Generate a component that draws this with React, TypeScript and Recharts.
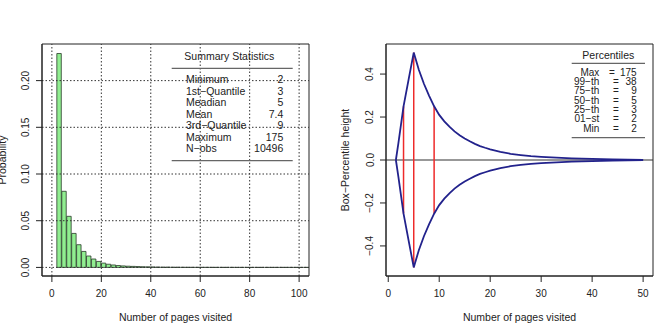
import React from 'react';
import { ComposedChart, Bar, Line, XAxis, YAxis, ReferenceLine, ReferenceArea } from 'recharts';

const FONT = '"Liberation Sans", Arial, Helvetica, sans-serif';
const INK = '#222';

// histogram of pages visited: bin start (width 2) and density
const binStart = [
  2, 4, 6, 8, 10, 12, 14, 16, 18, 20, 22, 24, 26, 28, 30, 32, 34, 36, 38, 40, 42, 44, 46, 48, 50,
  52, 54, 56, 58, 60, 62, 64, 66, 68, 70, 72, 74, 76, 78, 80, 82, 84, 86, 88, 90, 92, 94, 96, 98, 100, 102,
];
const binDensity = [
  0.229, 0.0815, 0.0547, 0.0364, 0.0243, 0.0171, 0.0122, 0.009, 0.0064, 0.0046, 0.0034, 0.0026, 0.002,
  0.0016, 0.0013, 0.0011, 0.0009, 0.0007, 0.0006, 0.0005, 0.0004, 0.0003, 0.0003, 0.0002, 0.0002,
  0.00015, 0.00012, 0.0001, 0.0001, 0.00008, 0.00007, 0.00006, 0.00005, 0.00005, 0.00004, 0.00004,
  0.00003, 0.00003, 0.00003, 0.00002, 0.00002, 0.00002, 0.00002, 0.00002, 0.00002, 0.00002, 0.00002,
  0.00002, 0.00002, 0.00002, 0.00002,
];
const histXTicks = [0, 20, 40, 60, 80, 100];
const histYTicks = [0, 0.05, 0.1, 0.15, 0.2];

const summaryLabels = ['Minimum', '1st\u2212Quantile', 'Meadian', 'Mean', '3rd\u2212Quantile', 'Maximum', 'N\u2212obs'];
const summaryValues = ['2', '3', '5', '7.4', '9', '175', '10496'];

// box-percentile outline: pages visited vs half-height
const bpX = [1.5, 2, 3, 4, 5, 6, 7, 8, 9, 10, 11, 12, 13, 14, 15, 16, 17, 18, 19, 20, 22, 24, 26, 28, 30, 33, 36, 40, 44, 47, 50];
const bpH = [0, 0.08, 0.25, 0.375, 0.5, 0.42, 0.355, 0.3, 0.25, 0.21, 0.18, 0.155, 0.133, 0.115, 0.1, 0.087, 0.075,
  0.065, 0.057, 0.05, 0.038, 0.029, 0.023, 0.018, 0.015, 0.011, 0.008, 0.005, 0.003, 0.0015, 0];
const quartileX = [3, 5, 9];
const quartileH = [0.25, 0.5, 0.25];
const bpXTicks = [0, 10, 20, 30, 40, 50];
const bpYTicks = [-0.4, -0.2, 0, 0.2, 0.4];

const pctLabels = ['Max', '99\u2212th', '75\u2212th', '50\u2212th', '25\u2212th', '01\u2212st', 'Min'];
const pctValues = ['175', '38', '9', '5', '3', '2', '2'];

const histData = binStart.map((s, i) => ({ mid: s + 1, density: binDensity[i] }));
const upper = bpX.map((x, i) => ({ x, y: bpH[i] }));
const lower = bpX.map((x, i) => ({ x, y: -bpH[i] }));
const quartileLines = quartileX.map((x, i) => [{ x, y: -quartileH[i] }, { x, y: quartileH[i] }]);

const minus = (s: string) => s.replace('-', '\u2212');

// vertical tick labels (R style), centred on a fixed column left of the axis
const rotTick = (fmt: (v: number) => string, cx: number) => (props: any) => {
  const { y, payload } = props;
  return (
    <text x={cx} y={y} transform={`rotate(-90 ${cx} ${y})`} textAnchor="middle" dominantBaseline="central"
      fontSize={10} fill={INK} fontFamily={FONT}>
      {fmt(payload.value)}
    </text>
  );
};

const tickStyle = { fontSize: 10, fill: INK, fontFamily: FONT };
const axisLine = { stroke: INK };

const HX: [number, number] = [-4, 104];
const HY: [number, number] = [-0.0092, 0.2392];
const BX: [number, number] = [-0.44, 51.94];
const BY: [number, number] = [-0.54, 0.54];

function Histogram() {
  return (
    <ComposedChart width={335} height={336} data={histData} margin={{ top: 44, right: 26, bottom: 30, left: 0 }}>
      <XAxis dataKey="mid" type="number" domain={HX} ticks={histXTicks} allowDataOverflow
        tickSize={6} tickMargin={8} height={30} tick={tickStyle} axisLine={axisLine} tickLine={axisLine} />
      <YAxis type="number" domain={HY} ticks={histYTicks} allowDataOverflow width={42}
        tickSize={6} tick={rotTick((v) => v.toFixed(2), 25.5)} axisLine={axisLine} tickLine={axisLine} />
      <Bar dataKey="density" barSize={4.95} fill="#90ee90" stroke="#2a3a2a" strokeWidth={0.8} isAnimationActive={false} />
      {histXTicks.map((t) => (
        <ReferenceLine key={'gx' + t} x={t} stroke="#333" strokeDasharray="1.5 2" />
      ))}
      {histYTicks.map((t) => (
        <ReferenceLine key={'gy' + t} y={t} stroke="#333" strokeDasharray="1.5 2" />
      ))}
      <ReferenceArea x1={HX[0]} x2={HX[1]} y1={HY[0]} y2={HY[1]} fill="none" stroke={INK} strokeWidth={1} />
    </ComposedChart>
  );
}

function BoxPercentile() {
  return (
    <ComposedChart width={336} height={336} margin={{ top: 44, right: 18, bottom: 30, left: 0 }}>
      <XAxis dataKey="x" type="number" domain={BX} ticks={bpXTicks} allowDataOverflow
        tickSize={6} tickMargin={8} height={30} tick={tickStyle} axisLine={axisLine} tickLine={axisLine} />
      <YAxis type="number" domain={BY} ticks={bpYTicks} allowDataOverflow width={51}
        tickSize={6} tick={rotTick((v) => minus(v.toFixed(1)), 35)} axisLine={axisLine} tickLine={axisLine} />
      <ReferenceLine y={0} stroke="#333" strokeWidth={1.2} />
      {quartileLines.map((d, i) => (
        <Line key={'q' + i} data={d} dataKey="y" type="linear" stroke="#ee2a2a" strokeWidth={1.5}
          dot={false} isAnimationActive={false} />
      ))}
      <Line data={upper} dataKey="y" type="linear" stroke="#22228c" strokeWidth={1.8} dot={false} isAnimationActive={false} />
      <Line data={lower} dataKey="y" type="linear" stroke="#22228c" strokeWidth={1.8} dot={false} isAnimationActive={false} />
      <ReferenceArea x1={BX[0]} x2={BX[1]} y1={BY[0]} y2={BY[1]} fill="none" stroke={INK} strokeWidth={1} />
    </ComposedChart>
  );
}

function Overlay() {
  const t = { fontFamily: FONT, fontSize: 10.5, fill: INK } as const;
  const p = { fontFamily: FONT, fontSize: 10, fill: INK } as const;
  return (
    <svg width={671} height={336} style={{ position: 'absolute', left: 0, top: 0, pointerEvents: 'none' }}>
      <text x={175.5} y={317} textAnchor="middle" dominantBaseline="central" {...t}>Number of pages visited</text>
      <text x={519.5} y={317} textAnchor="middle" dominantBaseline="central" {...t}>Number of pages visited</text>
      <text x={2} y={160} transform="rotate(-90 2 160)" textAnchor="middle" dominantBaseline="central" {...t}>Probability</text>
      <text x={345} y={160} transform="rotate(-90 345 160)" textAnchor="middle" dominantBaseline="central" {...t}>
        Box{'\u2212'}Percentile height
      </text>

      <text x={229.3} y={56} textAnchor="middle" dominantBaseline="central" {...t}>Summary Statistics</text>
      <line x1={171.7} x2={292.7} y1={68.3} y2={68.3} stroke="#666" strokeWidth={1.2} />
      {summaryLabels.map((l, i) => (
        <g key={l}>
          <text x={186} y={79.3 + i * 11.5} dominantBaseline="central" {...t}>{l}</text>
          <text x={283.3} y={79.3 + i * 11.5} textAnchor="end" dominantBaseline="central" {...t}>{summaryValues[i]}</text>
        </g>
      ))}
      <line x1={171.7} x2={292.7} y1={160.7} y2={160.7} stroke="#666" strokeWidth={1.2} />

      <text x={608.3} y={54.5} textAnchor="middle" dominantBaseline="central" {...t}>Percentiles</text>
      <line x1={571.7} x2={645} y1={63.3} y2={63.3} stroke="#666" strokeWidth={1.2} />
      {pctLabels.map((l, i) => (
        <g key={l}>
          <text x={599.3} y={72.3 + i * 9.3} textAnchor="end" dominantBaseline="central" {...p}>{l}</text>
          <text x={i === 0 ? 612 : 616} y={72.3 + i * 9.3} textAnchor="middle" dominantBaseline="central" {...p}>=</text>
          <text x={636.7} y={72.3 + i * 9.3} textAnchor="end" dominantBaseline="central" {...p}>{pctValues[i]}</text>
        </g>
      ))}
      <line x1={571.7} x2={645} y1={137.7} y2={137.7} stroke="#666" strokeWidth={1.2} />
    </svg>
  );
}

export default function App() {
  return (
    <div style={{ position: 'absolute', left: 0, top: 0, width: 671, height: 336, background: '#fff', overflow: 'hidden' }}>
      <div style={{ position: 'absolute', left: 0, top: 0 }}>
        <Histogram />
      </div>
      <div style={{ position: 'absolute', left: 335, top: 0 }}>
        <BoxPercentile />
      </div>
      <Overlay />
    </div>
  );
}
